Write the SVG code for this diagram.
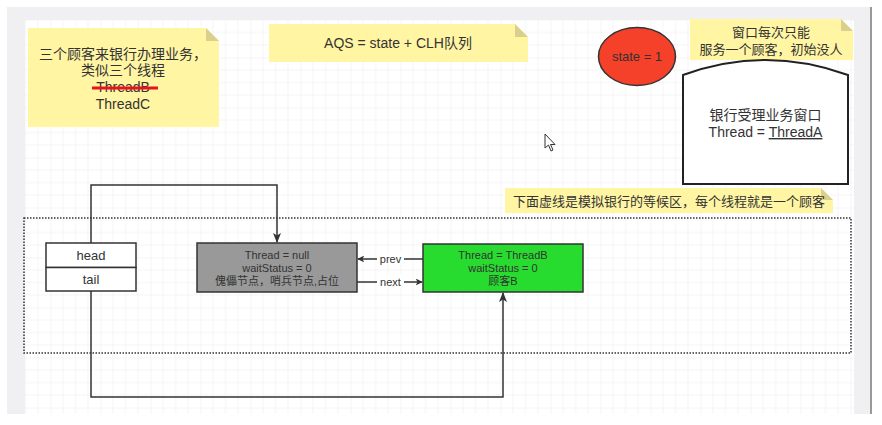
<svg xmlns="http://www.w3.org/2000/svg" width="882" height="425" viewBox="0 0 882 425">
<defs>
<pattern id="grid" width="50" height="50" x="0.5" y="7.5" patternUnits="userSpaceOnUse">
<path d="M12.5 0V50M25 0V50M37.5 0V50M0 12.5H50M0 25H50M0 37.5H50" stroke="#f4f4f4" stroke-width="1" fill="none"/>
<path d="M0 0V50M0 0H50" stroke="#ececec" stroke-width="1" fill="none"/>
</pattern>
<marker id="arr" viewBox="0 0 10 10" refX="9" refY="5" markerWidth="7" markerHeight="7" orient="auto" markerUnits="userSpaceOnUse">
<path d="M0 0L10 5L0 10L2.5 5Z" fill="#333"/>
</marker>
<marker id="arrS" viewBox="0 0 10 10" refX="9" refY="5" markerWidth="10" markerHeight="10" orient="auto" markerUnits="userSpaceOnUse">
<path d="M0 1L10 5L0 9L2.5 5Z" fill="#333"/>
</marker>
</defs>
<style>
text{font-family:"Liberation Sans","Noto Sans CJK SC",sans-serif;fill:#333;text-anchor:middle}
.note{fill:#fff5a3}
.fold{fill:#d8d08c}
.t14{font-size:14px}
.t13{font-size:13px}
.t11{font-size:11px}
.edge{fill:none;stroke:#333;stroke-width:1.5}
.box{stroke:#333;stroke-width:1.5}
</style>
<rect x="0" y="0" width="882" height="425" fill="#ffffff"/>
<rect x="7" y="7" width="864" height="407" fill="#f0f0f3"/>
<rect x="25" y="20" width="829" height="394" fill="#ffffff"/>
<rect x="25" y="20" width="829" height="394" fill="url(#grid)"/>
<rect x="870" y="7" width="2" height="407" fill="#999"/>

<g id="note-customers">
<path class="note" d="M28 28H206L219 41V127H28Z"/>
<path class="fold" d="M206 28L219 41H206Z"/>
<text class="t14" x="123" y="59">三个顾客来银行办理业务，</text>
<text class="t14" x="123" y="75">类似三个线程</text>
<text class="t14" x="123" y="92">ThreadB</text>
<line x1="92" y1="88" x2="158" y2="88" stroke="#e8141c" stroke-width="3"/>
<text class="t14" x="123" y="109">ThreadC</text>
</g>

<g id="note-aqs">
<path class="note" d="M269 24H515L528 37V62H269Z"/>
<path class="fold" d="M515 24L528 37H515Z"/>
<text class="t14" x="398" y="48">AQS = state + CLH队列</text>
</g>

<g id="state">
<ellipse cx="637" cy="56.5" rx="38.5" ry="29" fill="#f5402a" stroke="#333" stroke-width="1.5"/>
<text class="t13" x="637" y="61">state = 1</text>
</g>

<g id="note-window">
<path class="note" d="M690 19H841L853 31V60H690Z"/>
<path class="fold" d="M841 19L853 31H841Z"/>
<text class="t13" x="771" y="37">窗口每次只能</text>
<text class="t13" x="771" y="54">服务一个顾客，初始没人</text>
</g>

<g id="window">
<path d="M683 75Q765.5 45 848 75V184H683Z" fill="#ffffff" stroke="#222" stroke-width="2"/>
<text class="t14" x="765.5" y="120">银行受理业务窗口</text>
<text class="t14" x="765.5" y="137">Thread = <tspan text-decoration="underline">ThreadA</tspan></text>
</g>

<g id="cursor">
<path d="M545 134V148L548.5 145L551 151L553 150L550.5 144.5L555 144.5Z" fill="#fff" stroke="#333" stroke-width="1"/>
</g>

<g id="note-queue">
<path class="note" d="M505 188H821L833 200V213H505Z"/>
<path class="fold" d="M821 188L833 200H821Z"/>
<text class="t13" x="669" y="206">下面虚线是模拟银行的等候区，每个线程就是一个顾客</text>
</g>

<g id="waiting-area">
<rect x="24" y="218" width="827" height="135" fill="none" stroke="#333" stroke-width="1.5" stroke-dasharray="1.5 1.5"/>
</g>

<g id="head-tail">
<rect class="box" x="46" y="243" width="90" height="24.5" fill="#fff"/>
<rect class="box" x="46" y="267.5" width="90" height="23.5" fill="#fff"/>
<text class="t13" x="91" y="260">head</text>
<text class="t13" x="91" y="284">tail</text>
</g>

<g id="node-dummy">
<rect class="box" x="197" y="243" width="160" height="49" fill="#999999"/>
<text class="t11" x="277" y="259" fill="#444">Thread = null</text>
<text class="t11" x="277" y="272" fill="#444">waitStatus = 0</text>
<text class="t11" x="277" y="285" fill="#444">傀儡节点，哨兵节点,占位</text>
</g>

<g id="node-threadB">
<rect class="box" x="423" y="244" width="160" height="48" fill="#27dc2e"/>
<text class="t11" x="503" y="259">Thread = ThreadB</text>
<text class="t11" x="503" y="272">waitStatus = 0</text>
<text class="t11" x="503" y="285">顾客B</text>
</g>

<g id="connectors">
<path class="edge" d="M91 243V185H277V242" marker-end="url(#arrS)"/>
<path class="edge" d="M91 291V397H503V293" marker-end="url(#arrS)"/>
<path class="edge" d="M423 259H358" marker-end="url(#arr)"/>
<path class="edge" d="M357 282H422" marker-end="url(#arr)"/>
<rect x="377" y="252" width="27" height="13" fill="#fff"/>
<text class="t11" x="390.5" y="263" fill="#444">prev</text>
<rect x="377" y="275" width="27" height="13" fill="#fff"/>
<text class="t11" x="390.5" y="286" fill="#444">next</text>
</g>
</svg>
